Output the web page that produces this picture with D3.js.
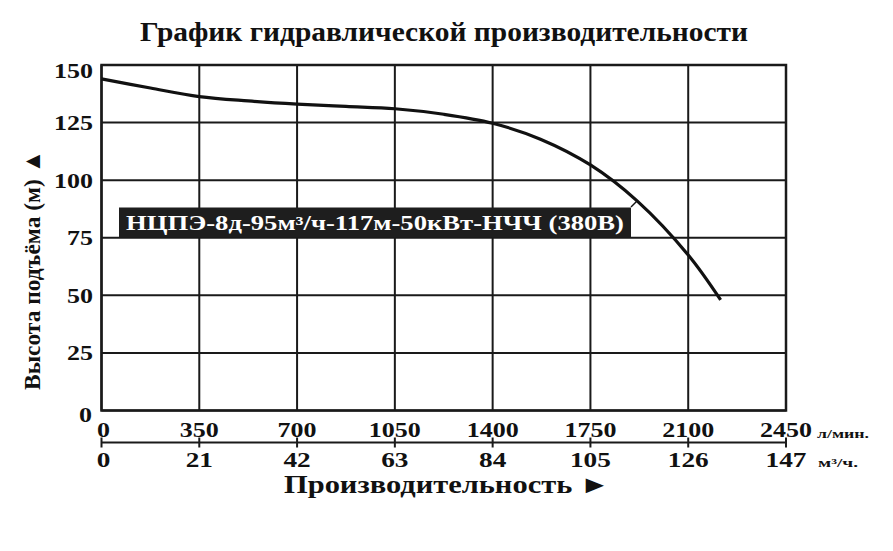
<!DOCTYPE html>
<html>
<head>
<meta charset="utf-8">
<script src="https://cdn.jsdelivr.net/npm/d3@7"></script>
<style>
  html, body { margin: 0; padding: 0; background: #fff; }
  svg { display: block; }
  text { font-family: "Liberation Serif", "Times New Roman", "DejaVu Serif", serif; font-weight: bold; fill: #111; }
</style>
</head>
<body>
<svg id="chart" width="893" height="551"></svg>
<script>
// ---- data ----
const flowLpm = [0, 175, 350, 525, 700, 875, 1050, 1225, 1400, 1571, 1750, 1917, 2100, 2216];
const headM   = [144, 140, 136.3, 134.4, 133, 132, 131, 128.6, 124.7, 117.8, 106.6, 91, 67.5, 48];
const xTicksLpm = [0, 350, 700, 1050, 1400, 1750, 2100, 2450];
const xTicksM3h = [0, 21, 42, 63, 84, 105, 126, 147];
const yTicks = [0, 25, 50, 75, 100, 125, 150];
const titleText = "График гидравлической производительности";
const yTitle = "Высота подъёма (м) ▲";
const xTitle = "Производительность ►";
const unitLpm = "л/мин.";
const unitM3h = "м³/ч.";
const seriesLabel = "НЦПЭ-8д-95м³/ч-117м-50кВт-НЧЧ (380В)";

// ---- layout ----
const svg = d3.select("#chart");
const L = 101.5, R = 786, T = 65, B = 410.5;
const x = d3.scaleLinear().domain([0, 2450]).range([L, R]);
const x2 = d3.scaleLinear().domain([0, 147]).range([L, R]);
const y = d3.scaleLinear().domain([0, 150]).range([B, T]);

// title
svg.append("text").attr("x", 140).attr("y", 41)
  .attr("font-size", 28).attr("textLength", 608).attr("lengthAdjust", "spacingAndGlyphs")
  .text(titleText);

// grid
const g = svg.append("g");
g.selectAll(".vg").data(xTicksLpm).join("line")
  .attr("x1", d => x(d)).attr("x2", d => x(d)).attr("y1", T).attr("y2", B)
  .attr("stroke", "#1a1a1a").attr("stroke-width", 2);
g.selectAll(".hg").data(yTicks).join("line")
  .attr("x1", L).attr("x2", R).attr("y1", d => y(d)).attr("y2", d => y(d))
  .attr("stroke", "#1a1a1a").attr("stroke-width", 2);
g.append("rect").attr("x", L).attr("y", T).attr("width", R - L).attr("height", B - T)
  .attr("fill", "none").attr("stroke", "#1a1a1a").attr("stroke-width", 2.5);

// y tick labels
svg.selectAll(".yl").data(yTicks).join("text")
  .attr("text-anchor", "end").attr("font-size", 20)
  .attr("transform", d => {
    let yy = y(d) + 7.5, xx = 93;
    if (d === 150) yy = y(d) + 13;
    if (d === 0) { yy = y(d) + 11; xx = 92; }
    return `translate(${xx},${yy}) scale(1.3,1)`;
  })
  .text(d => d);

// y title
svg.append("text")
  .attr("transform", "translate(40,270) rotate(-90)")
  .attr("text-anchor", "middle").attr("font-size", 24)
  .attr("textLength", 240).attr("lengthAdjust", "spacingAndGlyphs")
  .text(yTitle);

// top x labels (l/min)
svg.selectAll(".xl").data(xTicksLpm).join("text")
  .attr("text-anchor", "middle").attr("font-size", 20)
  .attr("transform", d => `translate(${x(d) + (d === 0 ? 2 : 0)},437) scale(1.3,1)`)
  .text(d => d);
svg.append("text").attr("x", 817).attr("y", 438).attr("font-size", 13)
  .attr("textLength", 52).attr("lengthAdjust", "spacingAndGlyphs").text(unitLpm);

// second axis line with ticks
const ay = 442.5;
svg.append("line").attr("x1", L).attr("x2", R).attr("y1", ay).attr("y2", ay)
  .attr("stroke", "#1a1a1a").attr("stroke-width", 2);
svg.selectAll(".tk").data(xTicksM3h).join("line")
  .attr("x1", d => x2(d)).attr("x2", d => x2(d)).attr("y1", ay - 5).attr("y2", ay + 5)
  .attr("stroke", "#1a1a1a").attr("stroke-width", 2);

// bottom x labels (m3/h)
svg.selectAll(".xl2").data(xTicksM3h).join("text")
  .attr("text-anchor", "middle").attr("font-size", 21)
  .attr("transform", d => `translate(${x2(d) + (d === 0 ? 2 : 0)},467) scale(1.3,1)`)
  .text(d => d);
svg.append("text").attr("x", 818).attr("y", 467).attr("font-size", 13)
  .attr("textLength", 40).attr("lengthAdjust", "spacingAndGlyphs").text(unitM3h);

// x title
svg.append("text").attr("x", 284).attr("y", 493).attr("font-size", 25)
  .attr("textLength", 326).attr("lengthAdjust", "spacingAndGlyphs")
  .text(xTitle);

// curve
const pts = flowLpm.map((f, i) => [f, headM[i]]);
const line = d3.line().x(d => x(d[0])).y(d => y(d[1])).curve(d3.curveCatmullRom.alpha(0.5));
svg.append("path").datum(pts).attr("d", line)
  .attr("fill", "none").attr("stroke", "#111").attr("stroke-width", 3.2).attr("stroke-linecap", "butt");

// label box
svg.append("line").attr("x1", 631).attr("y1", 207).attr("x2", 637).attr("y2", 201)
  .attr("stroke", "#111").attr("stroke-width", 1.5);
svg.append("rect").attr("x", 119).attr("y", 207.5).attr("width", 512).attr("height", 29.5)
  .attr("fill", "#1e1e1e");
svg.append("text").attr("x", 126).attr("y", 229.5).attr("font-size", 20)
  .attr("textLength", 498).attr("lengthAdjust", "spacingAndGlyphs")
  .style("fill", "#fff").text(seriesLabel);
</script>
</body>
</html>
